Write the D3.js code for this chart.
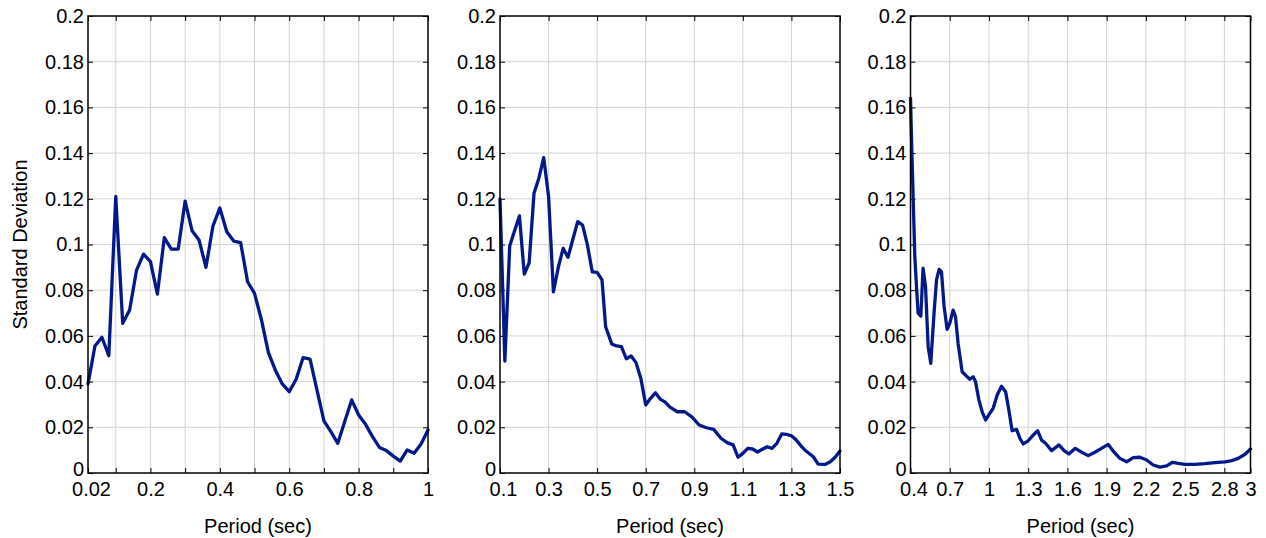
<!DOCTYPE html>
<html>
<head>
<meta charset="utf-8">
<script src="https://cdn.jsdelivr.net/npm/d3@7"></script>
<style>
  html, body { margin: 0; padding: 0; background: #fff; }
  svg { display: block; }
</style>
</head>
<body>
<svg id="chart" width="1266" height="538"></svg>
<script>
// Standard deviation of spectral values versus period, three period bands

const period1 = [0.02, 0.04, 0.06, 0.08, 0.10, 0.12, 0.14, 0.16, 0.18, 0.20,
  0.22, 0.24, 0.26, 0.28, 0.30, 0.32, 0.34, 0.36, 0.38, 0.40,
  0.42, 0.44, 0.46, 0.48, 0.50, 0.52, 0.54, 0.56, 0.58, 0.60,
  0.62, 0.64, 0.66, 0.68, 0.70, 0.72, 0.74, 0.76, 0.78, 0.80,
  0.82, 0.84, 0.86, 0.88, 0.90, 0.92, 0.94, 0.96, 0.98, 1.00];
const sd1 = [0.039, 0.0556, 0.0594, 0.0513, 0.121, 0.0655, 0.0713, 0.0888, 0.0958, 0.0925,
  0.0783, 0.103, 0.098, 0.098, 0.119, 0.106, 0.102, 0.090, 0.108, 0.116,
  0.1056, 0.1015, 0.1008, 0.0837, 0.0786, 0.067, 0.0527, 0.045, 0.039, 0.0356,
  0.041, 0.0505, 0.0498, 0.0363, 0.0228, 0.0181, 0.013, 0.0225, 0.032, 0.0254,
  0.0213, 0.0159, 0.0112, 0.0098, 0.0074, 0.0052, 0.0101, 0.0086, 0.0127, 0.0188];

const period2 = [0.10, 0.12, 0.14, 0.16, 0.18, 0.20, 0.22, 0.24, 0.26, 0.28,
  0.30, 0.32, 0.34, 0.36, 0.38, 0.40, 0.42, 0.44, 0.46, 0.48,
  0.50, 0.52, 0.535, 0.56, 0.58, 0.60, 0.62, 0.64, 0.66, 0.68,
  0.70, 0.72, 0.74, 0.76, 0.78, 0.80, 0.83, 0.86, 0.89, 0.92,
  0.95, 0.98, 1.01, 1.035, 1.06, 1.08, 1.10, 1.12, 1.14, 1.16,
  1.18, 1.20, 1.22, 1.24, 1.26, 1.28, 1.30, 1.32, 1.34, 1.36,
  1.39, 1.41, 1.44, 1.46, 1.48, 1.50];
const sd2 = [0.120, 0.049, 0.0993, 0.106, 0.1125, 0.087, 0.092, 0.1224, 0.129, 0.138,
  0.121, 0.0793, 0.090, 0.0983, 0.0944, 0.1023, 0.110, 0.1085, 0.0998, 0.088,
  0.0878, 0.0845, 0.064, 0.0565, 0.0556, 0.0553, 0.050, 0.0512, 0.0483, 0.0414,
  0.0298, 0.0327, 0.0351, 0.0323, 0.031, 0.0288, 0.0268, 0.0268, 0.0246, 0.021,
  0.0198, 0.0191, 0.0152, 0.0133, 0.0123, 0.0069, 0.0086, 0.0108, 0.0105, 0.0092,
  0.0104, 0.0115, 0.0108, 0.013, 0.0171, 0.0169, 0.0163, 0.0144, 0.0118, 0.0096,
  0.0071, 0.0039, 0.0038, 0.0049, 0.0069, 0.0096];

const period3 = [0.40, 0.408, 0.42, 0.433, 0.446, 0.458, 0.479, 0.496, 0.515, 0.535,
  0.555, 0.58, 0.599, 0.619, 0.637, 0.657, 0.68, 0.70, 0.726, 0.744,
  0.764, 0.795, 0.828, 0.854, 0.879, 0.897, 0.923, 0.948, 0.974, 0.999,
  1.032, 1.063, 1.096, 1.127, 1.152, 1.177, 1.211, 1.236, 1.262, 1.30,
  1.338, 1.372, 1.402, 1.433, 1.479, 1.535, 1.575, 1.611, 1.66, 1.708,
  1.759, 1.81, 1.861, 1.912, 1.95, 2.001, 2.053, 2.103, 2.154, 2.206,
  2.256, 2.307, 2.359, 2.402, 2.448, 2.499, 2.575, 2.652, 2.728, 2.805,
  2.856, 2.906, 2.958, 3.00];
const sd3 = [0.164, 0.1457, 0.121, 0.0947, 0.0815, 0.070, 0.0687, 0.0896, 0.0815, 0.0553,
  0.048, 0.070, 0.0845, 0.0891, 0.088, 0.0728, 0.0629, 0.0655, 0.0713, 0.0684,
  0.0567, 0.0443, 0.0424, 0.041, 0.0421, 0.040, 0.032, 0.0268, 0.0232, 0.0254,
  0.0283, 0.0341, 0.038, 0.0356, 0.0276, 0.0185, 0.0191, 0.0152, 0.0127, 0.0141,
  0.0166, 0.0185, 0.0144, 0.013, 0.0098, 0.0123, 0.0098, 0.0083, 0.0108, 0.0091,
  0.0076, 0.0091, 0.0108, 0.0125, 0.0096, 0.0064, 0.0049, 0.0067, 0.0069, 0.0057,
  0.0035, 0.0026, 0.0031, 0.0047, 0.0042, 0.0038, 0.0038, 0.0041, 0.0045, 0.0049,
  0.0054, 0.0064, 0.0082, 0.0105];

// Axis ticks and the subset of ticks that carry labels
const xTicks1 = [0.02, 0.1, 0.2, 0.3, 0.4, 0.5, 0.6, 0.7, 0.8, 0.9, 1];
const xLabels1 = [0.02, 0.2, 0.4, 0.6, 0.8, 1];
const xTicks2 = [0.1, 0.3, 0.5, 0.7, 0.9, 1.1, 1.3, 1.5];
const xTicks3 = [0.4, 0.7, 1, 1.3, 1.6, 1.9, 2.2, 2.5, 2.8, 3];
const yTicks = [0, 0.02, 0.04, 0.06, 0.08, 0.1, 0.12, 0.14, 0.16, 0.18, 0.2];

const xLabelText = "Period (sec)";
const yLabelText = "Standard Deviation";

const panels = [
  { left: 88,    domain: [0.02, 1], ticks: xTicks1, labels: xLabels1, x: period1, y: sd1, yLabel: true },
  { left: 500,   domain: [0.1, 1.5], ticks: xTicks2, labels: xTicks2, x: period2, y: sd2, yLabel: false },
  { left: 910.5, domain: [0.4, 3], ticks: xTicks3, labels: xTicks3, x: period3, y: sd3, yLabel: false }
];

const plotW = 340, plotH = 457, plotTop = 16;
const font = "'Liberation Sans', Arial, Helvetica, sans-serif";
const fontSize = 20;
const lineColor = "#03198a";
const gridColor = "#d4d4d4";
const tickLen = 5;

const svg = d3.select("#chart");
const fmt = d3.format("~g");

panels.forEach((p, i) => {
  const g = svg.append("g").attr("transform", `translate(${p.left},${plotTop})`);
  const x = d3.scaleLinear().domain(p.domain).range([0, plotW]);
  const y = d3.scaleLinear().domain([0, 0.2]).range([plotH, 0]);

  // grid
  g.append("g").selectAll("line.vg")
    .data(p.ticks.filter(t => t > p.domain[0] && t < p.domain[1]))
    .join("line")
    .attr("x1", d => x(d)).attr("x2", d => x(d))
    .attr("y1", 0).attr("y2", plotH)
    .attr("stroke", gridColor).attr("stroke-width", 1);
  g.append("g").selectAll("line.hg")
    .data(yTicks.filter(t => t > 0 && t < 0.2))
    .join("line")
    .attr("x1", 0).attr("x2", plotW)
    .attr("y1", d => y(d)).attr("y2", d => y(d))
    .attr("stroke", gridColor).attr("stroke-width", 1);

  // bottom axis (inward ticks)
  const xb = g.append("g").attr("transform", `translate(0,${plotH})`)
    .call(d3.axisBottom(x).tickValues(p.ticks)
      .tickSizeInner(-tickLen).tickSizeOuter(0).tickPadding(9)
      .tickFormat(d => p.labels.includes(d) ? fmt(d) : ""));
  // the first label sits a little to the right of the corner
  xb.selectAll(".tick text").filter(d => d === p.domain[0]).attr("dx", 3);
  // top axis ticks
  const xt = g.append("g")
    .call(d3.axisTop(x).tickValues(p.ticks)
      .tickSizeInner(-tickLen).tickSizeOuter(0).tickFormat(""));
  // left axis
  const yl = g.append("g")
    .call(d3.axisLeft(y).tickValues(yTicks)
      .tickSizeInner(-tickLen).tickSizeOuter(0).tickPadding(4)
      .tickFormat(fmt));
  // right axis ticks
  const yr = g.append("g").attr("transform", `translate(${plotW},0)`)
    .call(d3.axisRight(y).tickValues(yTicks)
      .tickSizeInner(-tickLen).tickSizeOuter(0).tickFormat(""));

  [xb, xt, yl, yr].forEach(a => {
    a.select(".domain").remove();
    a.selectAll(".tick line").attr("stroke", "#000").attr("stroke-width", 1);
    a.selectAll("text")
      .attr("font-family", font).attr("font-size", fontSize).attr("fill", "#000");
  });
  // lift the zero label slightly so it clears the period labels
  yl.selectAll(".tick text").filter(d => d === 0).attr("dy", "0.1em");

  // data line
  const pts = d3.zip(p.x, p.y);
  g.append("path")
    .datum(pts)
    .attr("fill", "none")
    .attr("stroke", lineColor)
    .attr("stroke-width", 3.3)
    .attr("stroke-linejoin", "round")
    .attr("stroke-linecap", "round")
    .attr("d", d3.line().x(d => x(d[0])).y(d => y(d[1])));

  // frame
  g.append("rect")
    .attr("x", 0).attr("y", 0).attr("width", plotW).attr("height", plotH)
    .attr("fill", "none").attr("stroke", "#000").attr("stroke-width", 1.5);

  // x label
  svg.append("text")
    .attr("x", p.left + plotW / 2).attr("y", 533)
    .attr("text-anchor", "middle")
    .attr("font-family", font).attr("font-size", fontSize)
    .text(xLabelText);

  if (p.yLabel) {
    svg.append("text")
      .attr("transform", `translate(27,${plotTop + plotH / 2}) rotate(-90)`)
      .attr("text-anchor", "middle")
      .attr("font-family", font).attr("font-size", fontSize)
      .text(yLabelText);
  }
});
</script>
</body>
</html>
